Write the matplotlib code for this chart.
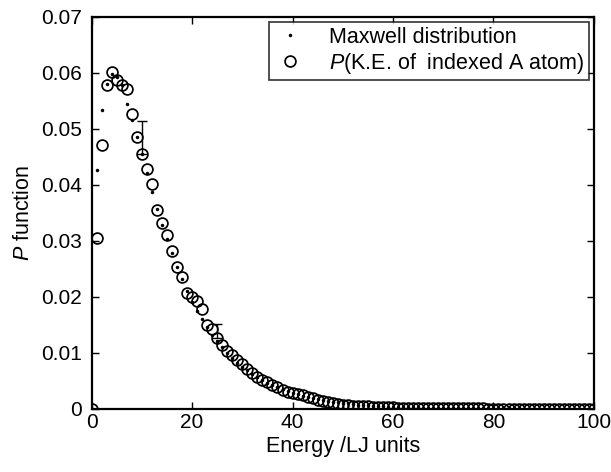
import matplotlib
matplotlib.use("Agg")
import matplotlib.pyplot as plt

plt.rcParams['font.family'] = ['Liberation Sans', 'DejaVu Sans']
plt.rcParams['mathtext.fontset'] = 'custom'
plt.rcParams['mathtext.it'] = 'Liberation Sans:italic'
plt.rcParams['mathtext.rm'] = 'Liberation Sans'

# energies 0..100 (LJ units)
energy = list(range(0, 101))

# P(K.E. of indexed A atom)
p_atom = [
    0.0, 0.0305, 0.0472, 0.0578, 0.0602, 0.0588, 0.0578, 0.0571, 0.0526, 0.0485,
    0.0455, 0.0428, 0.0402, 0.0355, 0.0333, 0.0310, 0.0282, 0.0254, 0.0236, 0.0208,
    0.0200, 0.0192, 0.0178, 0.0150, 0.0142, 0.0126, 0.0115, 0.0104, 0.0096, 0.0088,
    0.0080, 0.0072, 0.0064, 0.0057, 0.0052, 0.0048, 0.0043, 0.0039, 0.0034, 0.0031,
    0.0029, 0.0027, 0.0025, 0.0022, 0.0019, 0.0016, 0.0014, 0.0012, 0.0010, 0.0009,
    0.0008, 0.0007, 0.0006, 0.0006, 0.0005, 0.0005, 0.0004, 0.0004, 0.0003, 0.0003,
    0.0003, 0.0002, 0.0002, 0.0002, 0.0002, 0.0002, 0.0002, 0.0001, 0.0001, 0.0001,
    0.0001, 0.0001, 0.0001, 0.0001, 0.0001, 0.0001, 0.0001, 0.0001, 0.0001, 0.0,
    0.0, 0.0, 0.0, 0.0, 0.0, 0.0, 0.0, 0.0, 0.0, 0.0,
    0.0, 0.0, 0.0, 0.0, 0.0, 0.0, 0.0, 0.0, 0.0, 0.0,
    0.0,
]

# Maxwell distribution dots
p_maxwell = [
    0.0, 0.0427, 0.0534, 0.0580, 0.0598, 0.0592, 0.0578, 0.0545, 0.0516, 0.0485,
    0.0455, 0.0421, 0.0388, 0.0358, 0.0329, 0.0303, 0.0278, 0.0253, 0.0232, 0.0210,
    0.0191, 0.0175, 0.0160, 0.0146, 0.0133, 0.0121, 0.0110, 0.0100, 0.0091, 0.0083,
    0.0075, 0.0069, 0.0062, 0.0057, 0.0052, 0.0047, 0.0043, 0.0039, 0.0035, 0.0032,
    0.0029, 0.0026, 0.0024, 0.0021, 0.0019, 0.0017, 0.0016, 0.0014, 0.0013, 0.0012,
    0.0011, 0.0010, 0.0009, 0.0008, 0.0007, 0.0007, 0.0006, 0.0005, 0.0005, 0.0004,
    0.0004, 0.0003, 0.0003, 0.0003, 0.0003, 0.0003, 0.0002, 0.0002, 0.0002, 0.0002,
    0.0002, 0.0002, 0.0002, 0.0001, 0.0001, 0.0001, 0.0001, 0.0001, 0.0001, 0.0001,
    0.0001, 0.0001, 0.0001, 0.0001, 0.0001, 0.0001, 0.0, 0.0, 0.0, 0.0,
    0.0, 0.0, 0.0, 0.0, 0.0, 0.0, 0.0, 0.0, 0.0, 0.0,
    0.0,
]

# error bars
err_x = [10, 25]
err_y = [0.0485, 0.0139]
err_size = [0.0030, 0.0013]


def plot_dist():
    fig = plt.figure(figsize=(6.11, 4.72), dpi=100)
    ax = fig.add_axes([0.150, 0.1335, 0.822, 0.8305])

    ax.plot(energy, p_maxwell, linestyle='none', marker='.', markersize=3,
            color='black', label='Maxwell distribution')
    ax.plot(energy, p_atom, linestyle='none', marker='o', markersize=7.8,
            markerfacecolor='none', markeredgecolor='black', markeredgewidth=1.25,
            label='$P$(K.E. of  indexed A atom)')
    ax.errorbar(err_x, err_y, yerr=err_size, fmt='none', ecolor='black',
                elinewidth=1.0, capsize=3.5, capthick=1.0)

    ax.set_xlim(0, 100)
    ax.set_ylim(0, 0.07)
    ax.set_xticks([0, 20, 40, 60, 80, 100])
    ax.set_yticks([0, 0.01, 0.02, 0.03, 0.04, 0.05, 0.06, 0.07])
    ax.set_yticklabels(['0', '0.01', '0.02', '0.03', '0.04', '0.05', '0.06', '0.07'])
    ax.tick_params(direction='in', top=True, right=True, length=5, width=1,
                   labelsize=15)
    ax.tick_params(axis='y', pad=7)
    ax.tick_params(axis='x', pad=3)
    for s in ax.spines.values():
        s.set_linewidth(1.6)

    ax.set_xlabel('Energy /LJ units', fontsize=15.5, labelpad=3)
    ax.set_ylabel('$P$ function', fontsize=15.5, labelpad=5)

    leg = ax.legend(loc='upper right', fontsize=15.5, frameon=True, fancybox=False,
                    edgecolor='black', borderpad=0.2, handletextpad=1.0,
                    labelspacing=0.15, borderaxespad=0.25, handlelength=1.6)
    leg.get_frame().set_linewidth(1.2)

    fig.savefig('out.png', dpi=100)
    plt.close(fig)


def main():
    plot_dist()


if __name__ == "__main__":
    main()
